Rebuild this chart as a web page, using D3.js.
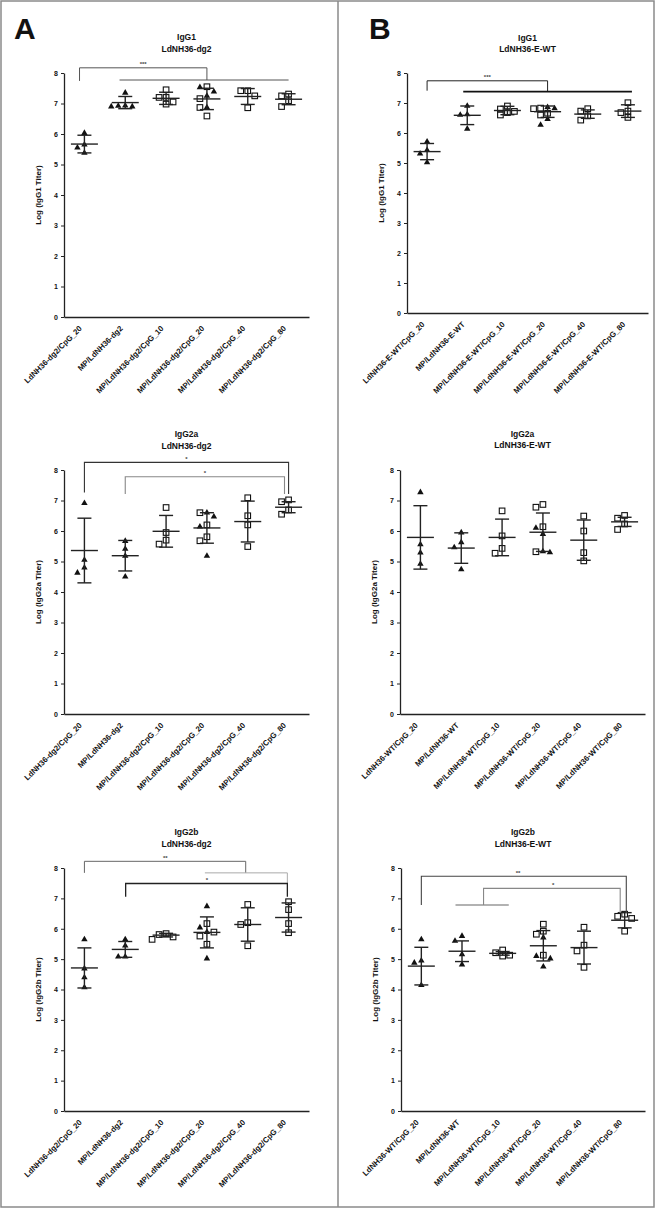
<!DOCTYPE html>
<html>
<head>
<meta charset="utf-8">
<script src="https://cdn.jsdelivr.net/npm/d3@7"></script>
<style>
body { margin: 0; background: #fff; }
text { font-family: "Liberation Sans", Arial, sans-serif; font-weight: bold; fill: #111; }
</style>
</head>
<body>
<div id="fig"></div>
<script>
// group names on the x axis
var catsDg2 = ["LdNH36-dg2/CpG_20", "MP/LdNH36-dg2", "MP/LdNH36-dg2/CpG_10", "MP/LdNH36-dg2/CpG_20", "MP/LdNH36-dg2/CpG_40", "MP/LdNH36-dg2/CpG_80"];
var catsEWT = ["LdNH36-E-WT/CpG_20", "MP/LdNH36-E-WT", "MP/LdNH36-E-WT/CpG_10", "MP/LdNH36-E-WT/CpG_20", "MP/LdNH36-E-WT/CpG_40", "MP/LdNH36-E-WT/CpG_80"];
var catsWT = ["LdNH36-WT/CpG_20", "MP/LdNH36-WT", "MP/LdNH36-WT/CpG_10", "MP/LdNH36-WT/CpG_20", "MP/LdNH36-WT/CpG_40", "MP/LdNH36-WT/CpG_80"];
var yTicks = [0, 1, 2, 3, 4, 5, 6, 7, 8];

// IgG1, LdNH36-dg2 (log titer per mouse; triangles and squares)
var igg1DgTri = [[6.03, 5.65, 5.55, 5.38], [7.35, 6.92, 6.9, 6.93, 6.9], [], [7.53, 7.39, 7.25, 6.87], [], []];
var igg1DgSq = [[], [], [7.45, 7.2, 7.2, 7.05, 6.98], [7.55, 7.16, 6.87, 6.59], [7.42, 7.42, 7.25, 6.86], [7.31, 7.25, 7.09, 6.9]];
var igg1DgMean = [5.67, 7.03, 7.17, 7.15, 7.23, 7.14];
var igg1DgSd = [0.29, 0.2, 0.2, 0.35, 0.26, 0.18];

// IgG1, LdNH36-E-WT
var igg1WtTri = [[5.71, 5.43, 5.31, 5.02], [6.9, 6.62, 6.6, 6.14], [], [6.86, 6.82, 6.46, 6.27], [], []];
var igg1WtSq = [[], [], [6.9, 6.8, 6.72, 6.68, 6.6], [6.81, 6.66, 6.6, 6.83], [6.81, 6.73, 6.57, 6.43], [7.01, 6.73, 6.68, 6.52]];
var igg1WtMean = [5.38, 6.59, 6.75, 6.71, 6.63, 6.73];
var igg1WtSd = [0.27, 0.31, 0.14, 0.19, 0.14, 0.21];

// IgG2a, LdNH36-dg2
var igg2aDgTri = [[6.91, 5.05, 4.8, 4.63], [5.67, 5.41, 5.18, 4.5], [], [6.6, 6.47, 6.14, 5.18], [], []];
var igg2aDgSq = [[], [], [6.77, 5.95, 5.7, 5.57], [6.6, 6.2, 5.81, 5.68], [7.09, 6.5, 6.2, 5.49], [7.02, 6.96, 6.69, 6.55]];
var igg2aDgMean = [5.36, 5.19, 5.99, 6.1, 6.31, 6.78];
var igg2aDgSd = [1.06, 0.5, 0.52, 0.5, 0.67, 0.18];

// IgG2a, LdNH36-E-WT
var igg2aWtTri = [[7.27, 5.56, 5.29, 4.92], [5.95, 5.63, 5.46, 4.74], [], [6.1, 5.9, 5.33, 5.3], [], []];
var igg2aWtSq = [[], [], [6.66, 5.84, 5.43, 5.27], [6.87, 6.78, 6.14, 5.32], [6.49, 6.0, 5.29, 5.02], [6.51, 6.42, 6.23, 6.05]];
var igg2aWtMean = [5.79, 5.44, 5.79, 5.96, 5.7, 6.3];
var igg2aWtSd = [1.04, 0.5, 0.6, 0.63, 0.66, 0.15];

// IgG2b, LdNH36-dg2
var igg2bDgTri = [[5.65, 4.69, 4.4, 4.07], [5.65, 5.44, 5.08, 5.08], [], [6.74, 6.04, 5.89, 5.02], [], []];
var igg2bDgSq = [[], [], [5.81, 5.65, 5.73, 5.84], [6.17, 5.76, 5.89, 5.49], [6.8, 6.2, 6.14, 5.44], [6.89, 6.63, 6.17, 5.87]];
var igg2bDgMean = [4.71, 5.32, 5.79, 5.88, 6.14, 6.37];
var igg2bDgSd = [0.66, 0.26, 0.06, 0.51, 0.55, 0.48];

// IgG2b, LdNH36-E-WT
var igg2bWtTri = [[5.65, 4.95, 4.88, 4.14], [5.76, 5.6, 5.16, 4.82], [], [5.71, 5.1, 5.02, 4.75], [], []];
var igg2bWtSq = [[], [], [5.21, 5.1, 5.13, 5.3], [6.15, 5.92, 5.82, 5.13], [6.05, 5.46, 5.27, 4.73], [6.41, 6.48, 6.34, 5.92]];
var igg2bWtMean = [4.77, 5.26, 5.19, 5.44, 5.38, 6.28];
var igg2bWtSd = [0.62, 0.34, 0.06, 0.5, 0.54, 0.25];

// significance brackets: polylines in [group index, log titer]
var sigIgg1Dg = [[[-0.12, 7.74], [-0.12, 8.17], [3, 8.17], [3, 7.77]], [[0.86, 7.77], [5, 7.77]]];
var starsIgg1Dg = [[1.44, 8.17, "***"]];
var sigIgg1Wt = [[[0, 7.41], [0, 7.74], [3, 7.74], [3, 7.38]], [[0.9, 7.38], [5.1, 7.38]]];
var starsIgg1Wt = [[1.5, 7.74, "***"]];
var sigIgg2aDg = [[[0, 7.26], [0, 8.25], [5, 8.25], [5, 7.21]], [[1, 7.21], [1, 7.78], [4.9, 7.78], [4.9, 7.21]]];
var starsIgg2aDg = [[2.5, 8.25, "*"], [2.95, 7.78, "*"]];
var sigIgg2bDg = [[[0, 7.84], [0, 8.22], [3.95, 8.22], [3.95, 7.84]], [[2.95, 7.84], [4.97, 7.84], [4.97, 7.49]], [[1.01, 7.05], [1.01, 7.49], [4.97, 7.49], [4.97, 7.05]]];
var starsIgg2bDg = [[1.98, 8.22, "**"], [3, 7.49, "*"]];
var sigIgg2bWt = [[[0, 6.78], [0, 7.73], [5.04, 7.73], [5.04, 6.52]], [[0.84, 6.78], [2.15, 6.78]], [[1.53, 6.78], [1.53, 7.33], [4.89, 7.33], [4.89, 6.52]]];
var starsIgg2bWt = [[2.38, 7.73, "**"], [3.24, 7.33, "*"]];

var charts = [
  {x0: 64, x1: 309, y0: 317, y8: 73, t: [40, 51.5], title: ["IgG1", "LdNH36-dg2"], ylab: "Log (IgG1 Titer)", cats: catsDg2,
   tri: igg1DgTri, sq: igg1DgSq, mean: igg1DgMean, sd: igg1DgSd, sig: sigIgg1Dg, stars: starsIgg1Dg, sigColor: ["#555", "#555"], sigW: [1, 1]},
  {x0: 407, x1: 648, y0: 313, y8: 73, t: [41, 51.5], title: ["IgG1", "LdNH36-E-WT"], ylab: "Log (IgG1 Titer)", cats: catsEWT,
   tri: igg1WtTri, sq: igg1WtSq, mean: igg1WtMean, sd: igg1WtSd, sig: sigIgg1Wt, stars: starsIgg1Wt, sigColor: ["#222", "#111"], sigW: [1, 1.8]},
  {x0: 64, x1: 309, y0: 714, y8: 470, t: [437, 448.5], title: ["IgG2a", "LdNH36-dg2"], ylab: "Log (IgG2a Titer)", cats: catsDg2,
   tri: igg2aDgTri, sq: igg2aDgSq, mean: igg2aDgMean, sd: igg2aDgSd, sig: sigIgg2aDg, stars: starsIgg2aDg, sigColor: ["#333", "#888"], sigW: [1.1, 1.1]},
  {x0: 400, x1: 645, y0: 714, y8: 470, t: [436.5, 448], title: ["IgG2a", "LdNH36-E-WT"], ylab: "Log (IgG2a Titer)", cats: catsWT,
   tri: igg2aWtTri, sq: igg2aWtSq, mean: igg2aWtMean, sd: igg2aWtSd, sig: [], stars: [], sigColor: [], sigW: []},
  {x0: 64, x1: 309, y0: 1111, y8: 868, t: [835, 846.5], title: ["IgG2b", "LdNH36-dg2"], ylab: "Log (IgG2b Titer)", cats: catsDg2,
   tri: igg2bDgTri, sq: igg2bDgSq, mean: igg2bDgMean, sd: igg2bDgSd, sig: sigIgg2bDg, stars: starsIgg2bDg, sigColor: ["#666", "#aaa", "#222"], sigW: [1, 1, 1.3]},
  {x0: 401, x1: 645, y0: 1111, y8: 868, t: [835, 846.5], title: ["IgG2b", "LdNH36-E-WT"], ylab: "Log (IgG2b Titer)", cats: catsWT,
   tri: igg2bWtTri, sq: igg2bWtSq, mean: igg2bWtMean, sd: igg2bWtSd, sig: sigIgg2bWt, stars: starsIgg2bWt, sigColor: ["#444", "#666", "#888"], sigW: [1.1, 1.1, 1.1]}
];

var svg = d3.select("#fig").append("svg")
  .attr("width", 656)
  .attr("height", 1209);

svg.append("rect").attr("width", 656).attr("height", 1209).attr("fill", "#fff");

// outer frame and the A | B divider
svg.append("rect")
  .attr("x", 1).attr("y", 1).attr("width", 653).attr("height", 1206)
  .attr("fill", "none").attr("stroke", "#8a8a8a").attr("stroke-width", 1.5);
svg.append("line")
  .attr("x1", 338).attr("x2", 338).attr("y1", 1).attr("y2", 1207)
  .attr("stroke", "#8a8a8a").attr("stroke-width", 1.5);

svg.append("text").attr("x", 14).attr("y", 39).style("font-size", "30px").text("A");
svg.append("text").attr("x", 369).attr("y", 39).style("font-size", "30px").text("B");

charts.forEach(drawChart);

function drawChart(c) {
  var x = d3.scaleBand().domain(d3.range(c.cats.length)).range([c.x0, c.x1]);
  var xi = i => c.x0 + x.step() * (i + 0.5);
  var y = d3.scaleLinear().domain([0, 8]).range([c.y0, c.y8]);
  var g = svg.append("g");
  var mid = (c.x0 + c.x1) / 2;

  // titles
  g.append("text").attr("x", mid).attr("y", c.t[0]).attr("text-anchor", "middle").style("font-size", "8.5px").text(c.title[0]);
  g.append("text").attr("x", mid).attr("y", c.t[1]).attr("text-anchor", "middle").style("font-size", "8.5px").text(c.title[1]);

  // y axis
  var ya = g.append("g")
    .attr("transform", `translate(${c.x0},0)`)
    .call(d3.axisLeft(y).tickValues(yTicks).tickFormat(d3.format("d")).tickSize(3).tickSizeOuter(0));
  ya.select(".domain").attr("stroke", "#222").attr("stroke-width", 1.3);
  ya.selectAll("line").attr("stroke", "#222");
  ya.selectAll("text").style("font-size", "7px").style("font-family", "Liberation Sans, Arial, sans-serif").style("font-weight", "bold").attr("fill", "#111");

  g.append("text")
    .attr("transform", `translate(${c.x0 - 23},${(c.y0 + c.y8) / 2}) rotate(-90)`)
    .attr("text-anchor", "middle")
    .style("font-size", "8px")
    .text(c.ylab);

  // x axis with slanted group names
  var xa = g.append("g")
    .attr("transform", `translate(0,${c.y0})`)
    .call(d3.axisBottom(x).tickSize(0).tickFormat(i => c.cats[i]));
  xa.select(".domain").attr("stroke", "#222").attr("stroke-width", 1.3);
  xa.selectAll("text")
    .style("font-size", "7.8px").style("font-family", "Liberation Sans, Arial, sans-serif").style("font-weight", "bold").attr("fill", "#111")
    .attr("x", 0).attr("y", 0).attr("dy", 0)
    .attr("text-anchor", "end")
    .attr("transform", "translate(-2,12) rotate(-45)");

  // scatter points, spread sideways like a column scatter
  d3.range(c.cats.length).forEach(function(i) {
    var pts = c.tri[i].map(v => ({v: v, t: "tri"})).concat(c.sq[i].map(v => ({v: v, t: "sq"})));
    pts.sort((a, b) => b.v - a.v);
    var placed = [];
    var offs = [0, -7, 7, -14, 14, -21, 21];
    pts.forEach(function(p) {
      var py = y(p.v);
      for (var k = 0; k < offs.length; k++) {
        var px = xi(i) + offs[k];
        if (!placed.some(q => Math.abs(q.x - px) < 6 && Math.abs(q.y - py) < 6)) {
          p.x = px; p.y = py; placed.push(p); return;
        }
      }
      p.x = xi(i); p.y = py; placed.push(p);
    });

    g.selectAll(null).data(placed.filter(p => p.t == "sq")).enter().append("rect")
      .attr("x", p => p.x - 2.8).attr("y", p => p.y - 2.8)
      .attr("width", 5.6).attr("height", 5.6)
      .attr("fill", "#fff").attr("stroke", "#111").attr("stroke-width", 1.1);
    g.selectAll(null).data(placed.filter(p => p.t == "tri")).enter().append("path")
      .attr("transform", p => `translate(${p.x},${p.y})`)
      .attr("d", d3.symbol(d3.symbolTriangle, 18))
      .attr("fill", "#111");

    // mean and SD
    var m = c.mean[i], s = c.sd[i], cx = xi(i);
    var eb = g.append("g").attr("stroke", "#222").attr("stroke-width", 1.4);
    eb.append("line").attr("x1", cx).attr("x2", cx).attr("y1", y(m + s)).attr("y2", y(m - s));
    eb.append("line").attr("x1", cx - 7).attr("x2", cx + 7).attr("y1", y(m + s)).attr("y2", y(m + s));
    eb.append("line").attr("x1", cx - 7).attr("x2", cx + 7).attr("y1", y(m - s)).attr("y2", y(m - s));
    eb.append("line").attr("x1", cx - 13.5).attr("x2", cx + 13.5).attr("y1", y(m)).attr("y2", y(m));
  });

  // significance brackets
  var line = d3.line().x(d => xi(d[0])).y(d => y(d[1]));
  c.sig.forEach(function(s, k) {
    g.append("path").attr("d", line(s)).attr("fill", "none")
      .attr("stroke", c.sigColor[k]).attr("stroke-width", c.sigW[k]);
  });
  c.stars.forEach(function(s) {
    g.append("text").attr("x", xi(s[0])).attr("y", y(s[1]) - 1.5)
      .attr("text-anchor", "middle").style("font-size", "6px").style("fill", "#444").text(s[2]);
  });
}
</script>
</body>
</html>
